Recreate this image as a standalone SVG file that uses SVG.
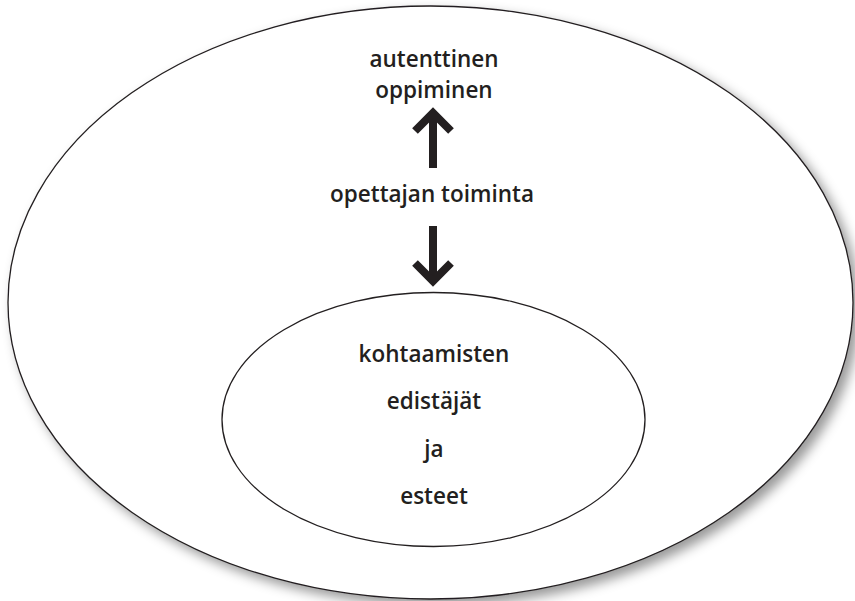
<svg xmlns="http://www.w3.org/2000/svg" width="855" height="601" viewBox="0 0 855 601">
<defs>
<filter id="shadow" x="-10%" y="-10%" width="130%" height="130%">
<feGaussianBlur in="SourceAlpha" stdDeviation="6"/>
<feOffset dx="6" dy="6" result="b"/>
<feFlood flood-color="#000" flood-opacity="0.4"/>
<feComposite in2="b" operator="in" result="s"/>
<feMerge><feMergeNode in="s"/><feMergeNode in="SourceGraphic"/></feMerge>
</filter>
</defs>
<style>
.ell{fill:#fff;stroke:#231f20;stroke-width:1.3}
.t{font-family:"Open Sans","Liberation Sans",sans-serif;font-size:22.5px;font-weight:600;fill:#231f20;text-anchor:middle}
.arr{fill:none;stroke:#231f20;stroke-width:8}
</style>
<rect width="855" height="601" fill="#fff"/>
<g id="outer">
<ellipse class="ell" cx="430.5" cy="302.5" rx="422.5" ry="296.5" filter="url(#shadow)"/>
<text class="t" x="434" y="67">autenttinen</text>
<text class="t" x="434" y="98">oppiminen</text>
</g>
<g id="center">
<text class="t" x="432" y="202">opettajan toiminta</text>
</g>
<g id="inner">
<ellipse class="ell" cx="433.5" cy="419.5" rx="211.5" ry="127"/>
<text class="t" x="434" y="362">kohtaamisten</text>
<text class="t" x="434" y="409">edistäjät</text>
<text class="t" x="434" y="457">ja</text>
<text class="t" x="434" y="504">esteet</text>
</g>
<g id="connectors">
<path class="arr" d="M433 168V112"/>
<path class="arr" d="M415 131L433 113L451 131"/>
<path class="arr" d="M433 226V280"/>
<path class="arr" d="M415 263L433 281L451 263"/>
</g>
</svg>
